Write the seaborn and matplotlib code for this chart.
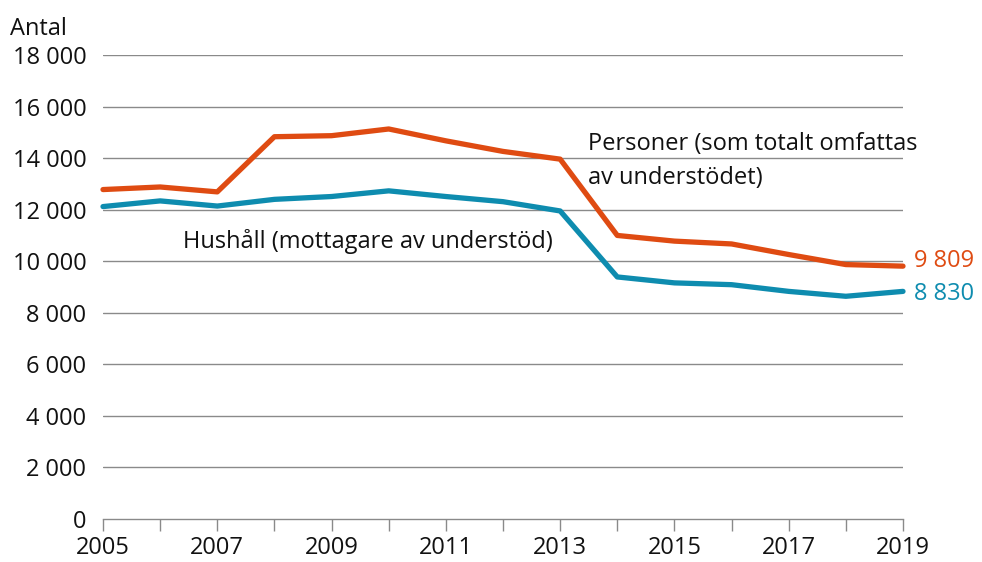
import matplotlib
matplotlib.use("Agg")
import matplotlib.pyplot as plt
import seaborn as sns
import pandas as pd

years = list(range(2005, 2020))
personer = [12780, 12880, 12690, 14830, 14870, 15130, 14670, 14260, 13960,
            11000, 10780, 10670, 10260, 9870, 9809]
hushall = [12120, 12340, 12140, 12400, 12510, 12730, 12510, 12310, 11950,
           9390, 9160, 9090, 8830, 8640, 8830]
series_names = ["Personer (som totalt omfattas\nav understödet)",
                "Hushåll (mottagare av understöd)"]
end_labels = ["9 809", "8 830"]
yticks = list(range(0, 18001, 2000))
ytick_labels = ["0", "2 000", "4 000", "6 000", "8 000", "10 000",
                "12 000", "14 000", "16 000", "18 000"]

orange = "#DF4B12"
teal = "#0E8CAF"
FS = 17

df = pd.DataFrame({
    "year": years * 2,
    "value": personer + hushall,
    "series": ["P"] * len(years) + ["H"] * len(years),
})

sns.set_theme(style="white")
plt.rcParams["font.family"] = ["Open Sans", "DejaVu Sans"]

fig = plt.figure(figsize=(9.82, 5.62), dpi=100)
ax = fig.add_axes([103 / 982, 1 - 519 / 562, 800 / 982, 464 / 562])

sns.lineplot(data=df, x="year", y="value", hue="series",
             palette={"P": orange, "H": teal}, linewidth=3.8,
             legend=False, ax=ax, clip_on=False)

ax.set_xlim(2005, 2019)
ax.set_ylim(0, 18000)
ax.set_yticks(yticks)
ax.set_yticklabels(ytick_labels, fontsize=FS, color="#111111")
ax.set_xticks(years)
ax.set_xticklabels([str(y) if (y - 2005) % 2 == 0 else "" for y in years],
                   fontsize=FS, color="#111111")
ax.set_xlabel("")
ax.set_ylabel("")

for yv in yticks[1:]:
    ax.axhline(yv, color="#8a8a8a", linewidth=1.0, zorder=0)

for s in ["top", "right", "left"]:
    ax.spines[s].set_visible(False)
ax.spines["bottom"].set_color("#8a8a8a")
ax.spines["bottom"].set_linewidth(1.0)

ax.tick_params(axis="y", left=False, length=0, pad=12)
ax.tick_params(axis="x", bottom=True, direction="out", length=8.5, width=1.0,
               color="#8a8a8a", pad=4)

ax.text(-0.116, 1.057, "Antal", transform=ax.transAxes, fontsize=FS,
        color="#111111", ha="left", va="center")

ax.text(2013.48, 13900, series_names[0], fontsize=FS, color="#111111",
        ha="left", va="center", linespacing=1.55)
ax.text(2006.4, 10750, series_names[1], fontsize=FS, color="#111111",
        ha="left", va="center")

ax.text(2019.2, personer[-1] + 200, end_labels[0], fontsize=FS, color=orange,
        ha="left", va="center")
ax.text(2019.2, hushall[-1] - 100, end_labels[1], fontsize=FS, color=teal,
        ha="left", va="center")

fig.savefig("out.png", dpi=100)
